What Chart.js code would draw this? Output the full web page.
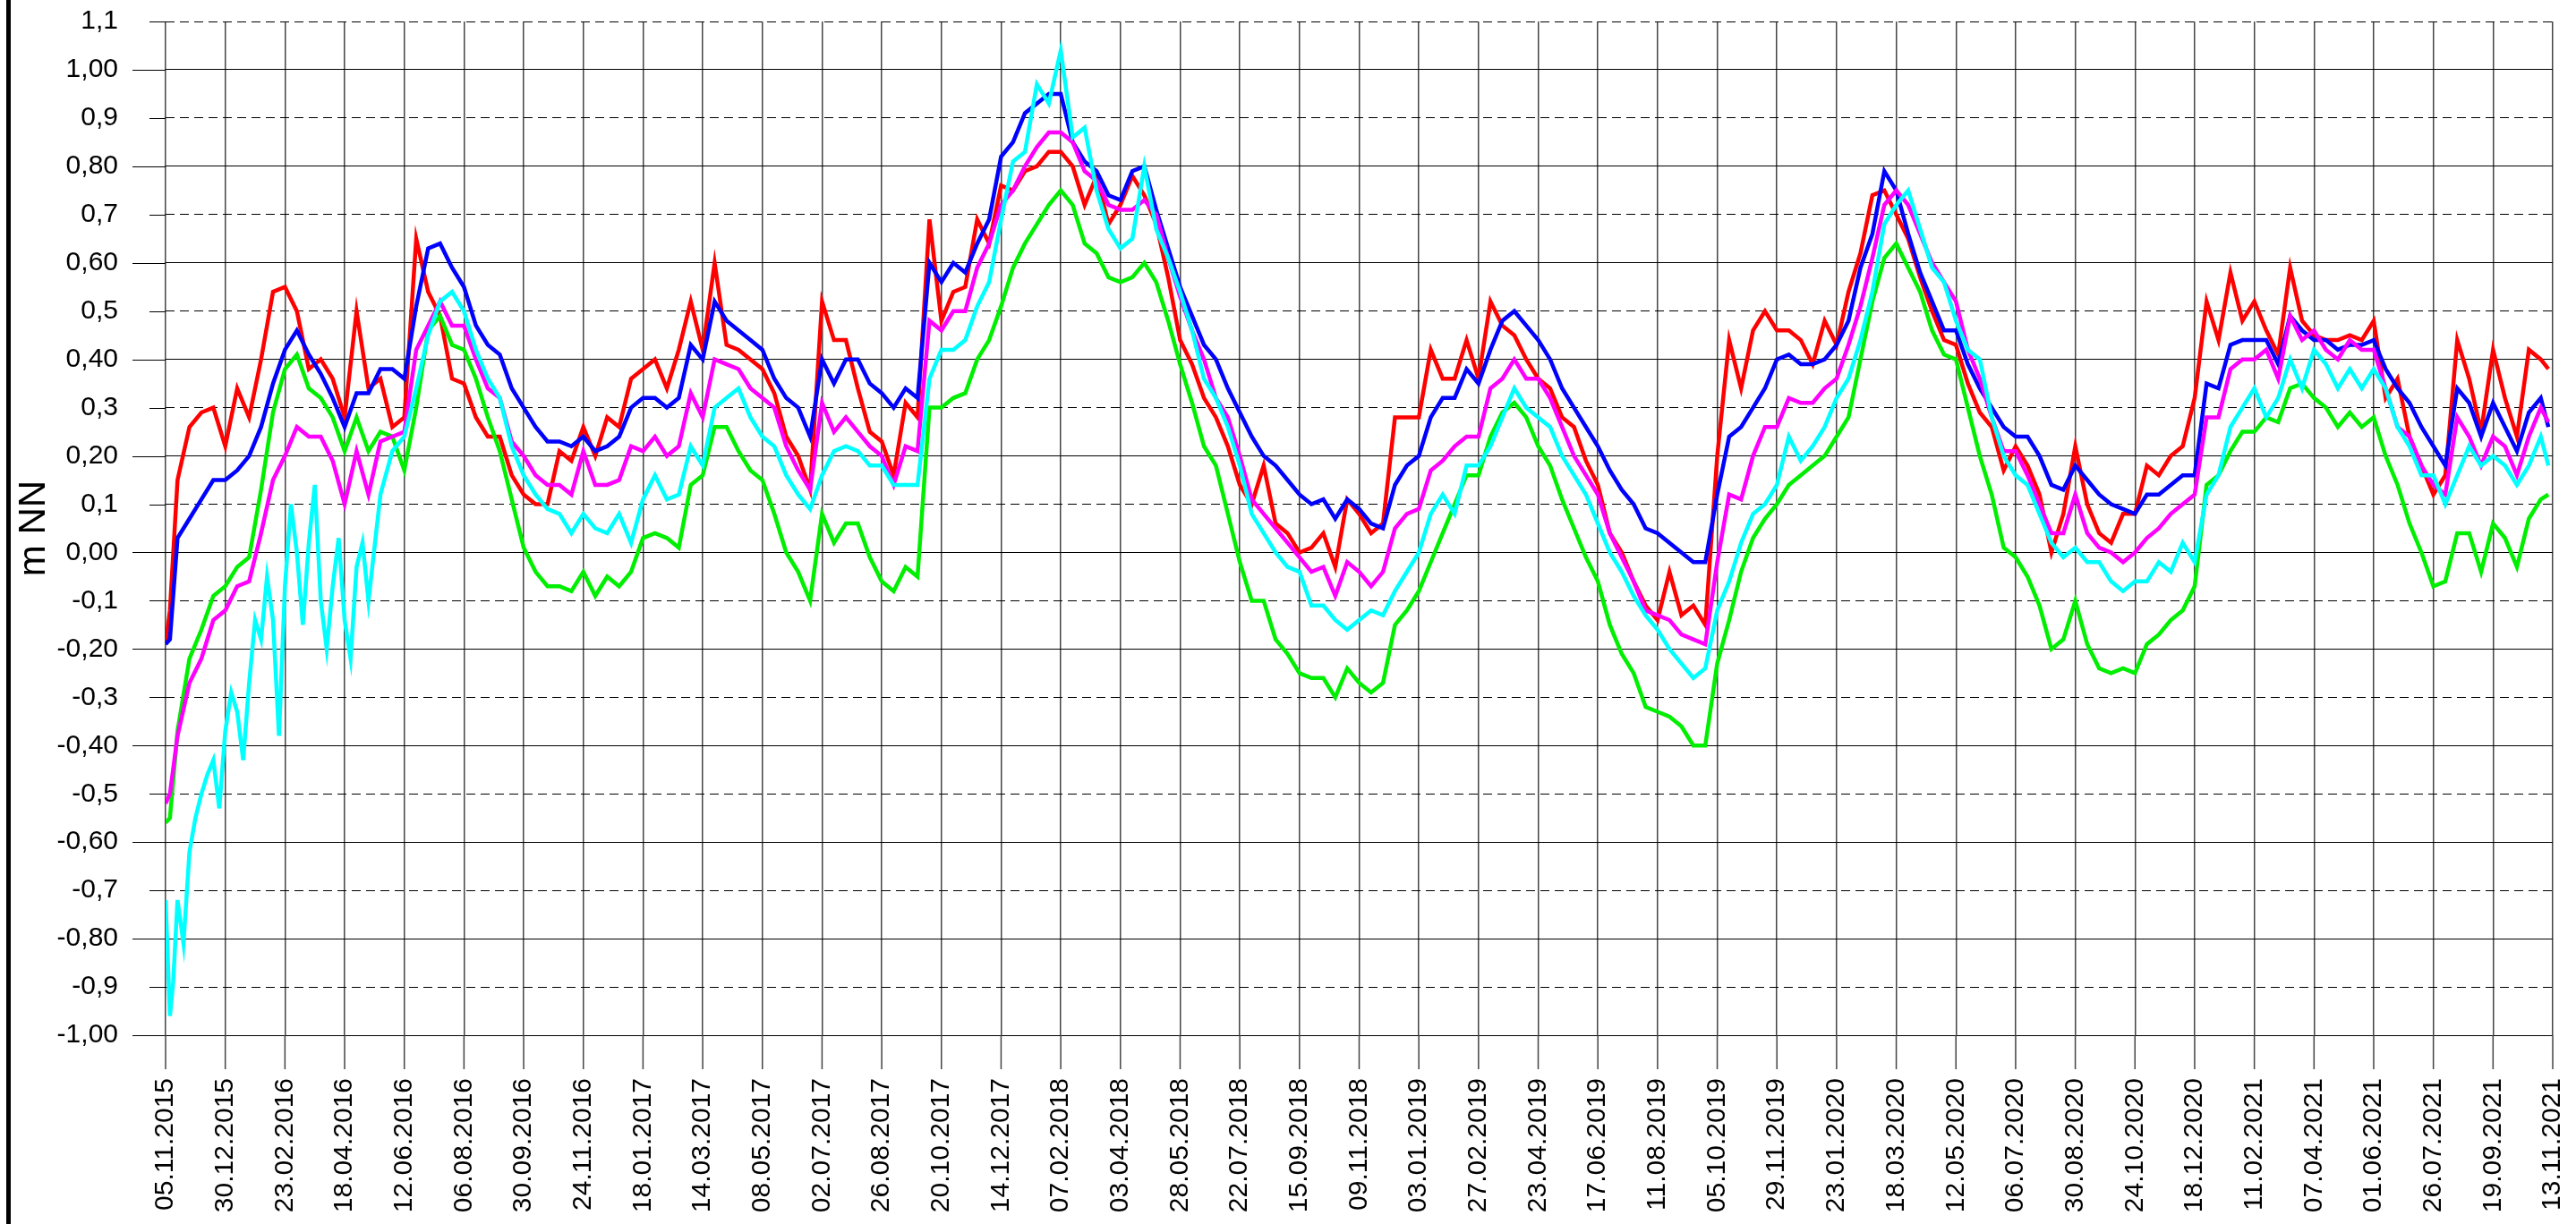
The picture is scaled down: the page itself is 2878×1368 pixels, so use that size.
<!DOCTYPE html>
<html>
<head>
<meta charset="utf-8">
<script src="https://cdn.jsdelivr.net/npm/chart.js@4.4.0/dist/chart.umd.min.js"></script>
<style>
  html, body { margin: 0; padding: 0; background: #fff; }
  #wrap { position: relative; width: 2878px; height: 1368px; }
  #frame { position: absolute; left: 7px; top: 0; width: 5px; height: 1368px; background: #000; }
</style>
</head>
<body>
<div id="wrap">
  <canvas id="myChart" width="2878" height="1368"></canvas>
  <div id="frame"></div>
</div>
<script>
// tick labels on the date axis, one every 55 days
var tickDates = [
  '05.11.2015', '30.12.2015', '23.02.2016', '18.04.2016', '12.06.2016', '06.08.2016',
  '30.09.2016', '24.11.2016', '18.01.2017', '14.03.2017', '08.05.2017', '02.07.2017',
  '26.08.2017', '20.10.2017', '14.12.2017', '07.02.2018', '03.04.2018', '28.05.2018',
  '22.07.2018', '15.09.2018', '09.11.2018', '03.01.2019', '27.02.2019', '23.04.2019',
  '17.06.2019', '11.08.2019', '05.10.2019', '29.11.2019', '23.01.2020', '18.03.2020',
  '12.05.2020', '06.07.2020', '30.08.2020', '24.10.2020', '18.12.2020', '11.02.2021',
  '07.04.2021', '01.06.2021', '26.07.2021', '19.09.2021', '13.11.2021'
];

var sampleDays = [0, 4];
for (var d = 11; d <= 2189; d += 11) sampleDays.push(d);
sampleDays.push(2196);

var red = [
  -0.19, -0.12, 0.15, 0.26, 0.29, 0.3, 0.22, 0.34, 0.28, 0.4, 0.54, 0.55, 0.5, 0.38, 0.4, 0.36, 0.28, 0.5, 0.34, 0.36, 0.26, 0.28, 0.65, 0.54, 0.49, 0.36,
  0.35, 0.28, 0.24, 0.24, 0.16, 0.12, 0.1, 0.1, 0.21, 0.19, 0.26, 0.2, 0.28, 0.26, 0.36, 0.38, 0.4, 0.34, 0.42, 0.52, 0.42, 0.6, 0.43, 0.42, 0.4,
  0.38, 0.33, 0.24, 0.2, 0.13, 0.52, 0.44, 0.44, 0.34, 0.25, 0.23, 0.16, 0.31, 0.28, 0.69, 0.48, 0.54, 0.55, 0.69, 0.64, 0.76, 0.75, 0.79, 0.8, 0.83,
  0.83, 0.8, 0.72, 0.78, 0.68, 0.72, 0.78, 0.74, 0.68, 0.57, 0.44, 0.39, 0.32, 0.28, 0.22, 0.14, 0.1, 0.18, 0.06, 0.04, 0.0, 0.01, 0.04, -0.03, 0.11,
  0.08, 0.04, 0.06, 0.28, 0.28, 0.28, 0.42, 0.36, 0.36, 0.44, 0.36, 0.52, 0.47, 0.45, 0.4, 0.36, 0.34, 0.28, 0.26, 0.19, 0.14, 0.04, 0.0, -0.06, -0.11,
  -0.14, -0.04, -0.13, -0.11, -0.15, 0.2, 0.44, 0.34, 0.46, 0.5, 0.46, 0.46, 0.44, 0.39, 0.48, 0.43, 0.54, 0.62, 0.74, 0.75, 0.7, 0.65, 0.57, 0.5, 0.44,
  0.43, 0.35, 0.29, 0.26, 0.17, 0.22, 0.18, 0.12, 0.0, 0.08, 0.22, 0.1, 0.04, 0.02, 0.08, 0.08, 0.18, 0.16, 0.2, 0.22, 0.32, 0.52, 0.44, 0.58, 0.48,
  0.52, 0.46, 0.41, 0.59, 0.48, 0.45, 0.44, 0.44, 0.45, 0.44, 0.48, 0.32, 0.36, 0.24, 0.18, 0.12, 0.16, 0.44, 0.36, 0.25, 0.42, 0.32, 0.24, 0.42, 0.4, 0.38
];

var blue = [
  -0.19, -0.18, 0.03, 0.07, 0.11, 0.15, 0.15, 0.17, 0.2, 0.26, 0.35, 0.42, 0.46, 0.41, 0.37, 0.32, 0.26, 0.33, 0.33, 0.38, 0.38, 0.36, 0.51, 0.63, 0.64, 0.59,
  0.55, 0.47, 0.43, 0.41, 0.34, 0.3, 0.26, 0.23, 0.23, 0.22, 0.24, 0.21, 0.22, 0.24, 0.3, 0.32, 0.32, 0.3, 0.32, 0.43, 0.4, 0.52, 0.48, 0.46, 0.44,
  0.42, 0.36, 0.32, 0.3, 0.24, 0.4, 0.35, 0.4, 0.4, 0.35, 0.33, 0.3, 0.34, 0.32, 0.6, 0.56, 0.6, 0.58, 0.64, 0.69, 0.82, 0.85, 0.91, 0.93, 0.95,
  0.95, 0.85, 0.81, 0.79, 0.74, 0.73, 0.79, 0.8, 0.71, 0.63, 0.55, 0.49, 0.43, 0.4, 0.34, 0.29, 0.24, 0.2, 0.18, 0.15, 0.12, 0.1, 0.11, 0.07, 0.11,
  0.09, 0.06, 0.05, 0.14, 0.18, 0.2, 0.28, 0.32, 0.32, 0.38, 0.35, 0.42, 0.48, 0.5, 0.47, 0.44, 0.4, 0.34, 0.3, 0.26, 0.22, 0.17, 0.13, 0.1, 0.05,
  0.04, 0.02, 0.0, -0.02, -0.02, 0.12, 0.24, 0.26, 0.3, 0.34, 0.4, 0.41, 0.39, 0.39, 0.4, 0.43, 0.48, 0.59, 0.66, 0.79, 0.75, 0.66, 0.58, 0.52, 0.46,
  0.46, 0.39, 0.34, 0.3, 0.26, 0.24, 0.24, 0.2, 0.14, 0.13, 0.18, 0.15, 0.12, 0.1, 0.09, 0.08, 0.12, 0.12, 0.14, 0.16, 0.16, 0.35, 0.34, 0.43, 0.44,
  0.44, 0.44, 0.39, 0.49, 0.46, 0.44, 0.44, 0.42, 0.43, 0.43, 0.44, 0.38, 0.34, 0.31, 0.26, 0.22, 0.18, 0.34, 0.31, 0.24, 0.31, 0.26, 0.21, 0.29, 0.32, 0.26
];

var green = [
  -0.56, -0.55, -0.37, -0.22, -0.16, -0.09, -0.07, -0.03, -0.01, 0.13, 0.29, 0.38, 0.41, 0.34, 0.32, 0.28, 0.21, 0.28, 0.21, 0.25, 0.24, 0.17, 0.3, 0.46, 0.49, 0.43,
  0.42, 0.36, 0.28, 0.21, 0.11, 0.01, -0.04, -0.07, -0.07, -0.08, -0.04, -0.09, -0.05, -0.07, -0.04, 0.03, 0.04, 0.03, 0.01, 0.14, 0.16, 0.26, 0.26, 0.21, 0.17,
  0.15, 0.08, 0.0, -0.04, -0.1, 0.08, 0.02, 0.06, 0.06, -0.01, -0.06, -0.08, -0.03, -0.05, 0.3, 0.3, 0.32, 0.33, 0.4, 0.44, 0.51, 0.59, 0.64, 0.68, 0.72,
  0.75, 0.72, 0.64, 0.62, 0.57, 0.56, 0.57, 0.6, 0.56, 0.48, 0.39, 0.31, 0.22, 0.18, 0.08, -0.02, -0.1, -0.1, -0.18, -0.21, -0.25, -0.26, -0.26, -0.3, -0.24,
  -0.27, -0.29, -0.27, -0.15, -0.12, -0.08, -0.02, 0.04, 0.1, 0.16, 0.16, 0.24, 0.29, 0.31, 0.28, 0.22, 0.18, 0.11, 0.05, -0.01, -0.06, -0.15, -0.21, -0.25, -0.32,
  -0.33, -0.34, -0.36, -0.4, -0.4, -0.23, -0.14, -0.04, 0.03, 0.07, 0.1, 0.14, 0.16, 0.18, 0.2, 0.24, 0.28, 0.4, 0.52, 0.61, 0.64, 0.59, 0.54, 0.46, 0.41,
  0.4, 0.3, 0.2, 0.12, 0.01, -0.01, -0.05, -0.11, -0.2, -0.18, -0.1, -0.19, -0.24, -0.25, -0.24, -0.25, -0.19, -0.17, -0.14, -0.12, -0.07, 0.14, 0.16, 0.21, 0.25,
  0.25, 0.28, 0.27, 0.34, 0.35, 0.32, 0.3, 0.26, 0.29, 0.26, 0.28, 0.2, 0.14, 0.06, 0.0, -0.07, -0.06, 0.04, 0.04, -0.04, 0.06, 0.03, -0.03, 0.07, 0.11, 0.12
];

var magenta = [
  -0.52, -0.5, -0.38, -0.27, -0.22, -0.14, -0.12, -0.07, -0.06, 0.04, 0.15, 0.2, 0.26, 0.24, 0.24, 0.19, 0.1, 0.21, 0.12, 0.23, 0.24, 0.25, 0.42, 0.47, 0.52, 0.47,
  0.47, 0.4, 0.34, 0.32, 0.23, 0.2, 0.16, 0.14, 0.14, 0.12, 0.21, 0.14, 0.14, 0.15, 0.22, 0.21, 0.24, 0.2, 0.22, 0.33, 0.28, 0.4, 0.39, 0.38, 0.34,
  0.32, 0.3, 0.22, 0.17, 0.13, 0.31, 0.25, 0.28, 0.25, 0.22, 0.2, 0.14, 0.22, 0.21, 0.48, 0.46, 0.5, 0.5, 0.59, 0.64, 0.72, 0.75, 0.8, 0.84, 0.87,
  0.87, 0.85, 0.79, 0.77, 0.72, 0.71, 0.71, 0.73, 0.7, 0.61, 0.53, 0.46, 0.4, 0.32, 0.28, 0.2, 0.11, 0.08, 0.05, 0.02, -0.01, -0.04, -0.03, -0.09, -0.02,
  -0.04, -0.07, -0.04, 0.05, 0.08, 0.09, 0.17, 0.19, 0.22, 0.24, 0.24, 0.34, 0.36, 0.4, 0.36, 0.36, 0.32, 0.26, 0.2, 0.16, 0.12, 0.04, -0.01, -0.06, -0.12,
  -0.13, -0.14, -0.17, -0.18, -0.19, -0.02, 0.12, 0.11, 0.2, 0.26, 0.26, 0.32, 0.31, 0.31, 0.34, 0.36, 0.43, 0.51, 0.61, 0.72, 0.75, 0.72, 0.66, 0.6, 0.56,
  0.52, 0.42, 0.36, 0.28, 0.21, 0.21, 0.16, 0.1, 0.04, 0.04, 0.12, 0.04, 0.01, 0.0, -0.02, 0.0, 0.03, 0.05, 0.08, 0.1, 0.12, 0.28, 0.28, 0.38, 0.4,
  0.4, 0.42, 0.36, 0.49, 0.44, 0.46, 0.42, 0.4, 0.44, 0.42, 0.42, 0.34, 0.26, 0.24, 0.18, 0.14, 0.12, 0.28, 0.24, 0.18, 0.24, 0.22, 0.16, 0.24, 0.3, 0.27
];

var cyan = [
  -0.72, -0.96, -0.72, -0.62, -0.5, -0.43, -0.37, -0.33, -0.27, -0.18, -0.14, -0.07, 0.0, 0.02, -0.1, -0.07, -0.14, -0.03, -0.1, 0.12, 0.21, 0.24, 0.34, 0.45, 0.52, 0.54,
  0.5, 0.42, 0.36, 0.32, 0.22, 0.16, 0.12, 0.09, 0.08, 0.04, 0.08, 0.05, 0.04, 0.08, 0.02, 0.11, 0.16, 0.11, 0.12, 0.22, 0.18, 0.3, 0.32, 0.34, 0.28,
  0.24, 0.22, 0.16, 0.12, 0.09, 0.16, 0.21, 0.22, 0.21, 0.18, 0.18, 0.14, 0.14, 0.14, 0.36, 0.42, 0.42, 0.44, 0.51, 0.56, 0.69, 0.81, 0.83, 0.97, 0.93,
  1.04, 0.86, 0.88, 0.75, 0.67, 0.63, 0.65, 0.8, 0.67, 0.61, 0.54, 0.46, 0.36, 0.32, 0.26, 0.18, 0.08, 0.04, 0.0, -0.03, -0.04, -0.11, -0.11, -0.14, -0.16,
  -0.14, -0.12, -0.13, -0.08, -0.04, 0.0, 0.08, 0.12, 0.08, 0.18, 0.18, 0.22, 0.28, 0.34, 0.3, 0.28, 0.26, 0.2, 0.16, 0.12, 0.06, 0.0, -0.04, -0.09, -0.13,
  -0.16, -0.2, -0.23, -0.26, -0.24, -0.12, -0.06, 0.02, 0.08, 0.1, 0.14, 0.24, 0.19, 0.22, 0.26, 0.32, 0.36, 0.44, 0.54, 0.68, 0.72, 0.75, 0.67, 0.59, 0.56,
  0.48, 0.42, 0.4, 0.28, 0.2, 0.16, 0.14, 0.08, 0.02, -0.01, 0.01, -0.02, -0.02, -0.06, -0.08, -0.06, -0.06, -0.02, -0.04, 0.02, -0.02, 0.12, 0.16, 0.26, 0.3,
  0.34, 0.28, 0.32, 0.4, 0.34, 0.42, 0.39, 0.34, 0.38, 0.34, 0.38, 0.34, 0.26, 0.22, 0.16, 0.16, 0.1, 0.16, 0.22, 0.18, 0.2, 0.18, 0.14, 0.18, 0.24, 0.18
];

// extra cyan readings in the very noisy first half year
var cyanExtraDays = [7, 16.5, 27.5, 38.5, 49.5, 60.5, 71.5, 82.5, 93.5, 104.5, 115.5, 126.5, 137.5, 148.5, 159.5, 170.5, 181.5];
var cyanExtra = [-0.89, -0.81, -0.55, -0.46, -0.53, -0.29, -0.43, -0.14, -0.05, -0.38, 0.1, -0.15, 0.14, -0.2, 0.03, -0.22, 0.02];

var FONT = '"Liberation Sans", Arial, sans-serif';

function toPoints(values, extraDays, extraValues) {
  var pts = [];
  for (var i = 0; i < values.length; i++) {
    pts.push({ x: sampleDays[i], y: values[i] });
  }
  if (extraDays) {
    for (var j = 0; j < extraDays.length; j++) {
      pts.push({ x: extraDays[j], y: extraValues[j] });
    }
    pts.sort(function (a, b) { return a.x - b.x; });
  }
  return pts;
}

function isOddTenth(v) {
  return Math.abs(Math.round(v * 10)) % 2 === 1;
}

// short tick marks outside the plot: long ones at x,00 values, short at x,x
var tickMarks = {
  id: 'tickMarks',
  afterDraw: function (chart) {
    var ctx = chart.ctx;
    var xs = chart.scales.x, ys = chart.scales.y;
    var area = chart.chartArea;
    ctx.save();
    ctx.lineWidth = 1;
    ctx.strokeStyle = '#000';
    ys.ticks.forEach(function (t) {
      var py = Math.round(ys.getPixelForValue(t.value)) + 0.5;
      var len = isOddTenth(t.value) ? 18 : 37;
      ctx.beginPath();
      ctx.moveTo(area.left - len, py);
      ctx.lineTo(area.left, py);
      ctx.stroke();
    });
    ctx.lineWidth = 1.5;
    ctx.strokeStyle = '#444';
    xs.ticks.forEach(function (t) {
      var px = xs.getPixelForValue(t.value);
      ctx.beginPath();
      ctx.moveTo(px, area.bottom);
      ctx.lineTo(px, area.bottom + 38);
      ctx.stroke();
    });
    // axis title, centred on the plot height
    ctx.fillStyle = '#000';
    ctx.font = '42px ' + FONT;
    ctx.translate(38, (area.top + area.bottom) / 2);
    ctx.rotate(-Math.PI / 2);
    ctx.textAlign = 'center';
    ctx.textBaseline = 'middle';
    ctx.fillText('m NN', 0, 0);
    ctx.restore();
  }
};

function line(label, color, points) {
  return {
    label: label,
    data: points,
    borderColor: color,
    backgroundColor: color,
    borderWidth: 4.5,
    pointRadius: 0,
    tension: 0,
    fill: false
  };
}

var ctx = document.getElementById('myChart').getContext('2d');
var myChart = new Chart(ctx, {
  type: 'line',
  data: {
    datasets: [
      line('cyan', '#00ffff', toPoints(cyan, cyanExtraDays, cyanExtra)),
      line('magenta', '#ff00ff', toPoints(magenta)),
      line('green', '#00ee00', toPoints(green)),
      line('blue', '#0000ff', toPoints(blue)),
      line('red', '#ff0000', toPoints(red))
    ]
  },
  options: {
    responsive: false,
    animation: false,
    devicePixelRatio: 1,
    layout: { padding: { top: 24, right: 26, left: 0, bottom: 0 } },
    plugins: { legend: { display: false }, tooltip: { enabled: false } },
    scales: {
      x: {
        type: 'linear',
        min: 0,
        max: 2200,
        afterFit: function (scale) {
          scale.height = 211;
          scale.paddingLeft = 0;
          scale.paddingRight = 0;
          scale.paddingTop = 0;
          scale.paddingBottom = 0;
        },
        grid: { color: '#444', lineWidth: 1.5, drawTicks: false },
        border: { display: false },
        ticks: {
          stepSize: 55,
          autoSkip: false,
          minRotation: 90,
          maxRotation: 90,
          padding: 48,
          color: '#000',
          font: { family: FONT, size: 30 },
          callback: function (value) {
            return tickDates[Math.round(value / 55)];
          }
        }
      },
      y: {
        min: -1.0,
        max: 1.1,
        afterFit: function (scale) {
          scale.width = 185;
          scale.paddingLeft = 0;
          scale.paddingRight = 0;
          scale.paddingTop = 0;
          scale.paddingBottom = 0;
        },
        grid: { color: '#000', lineWidth: 1, drawTicks: false },
        border: {
          display: false,
          dash: function (c) {
            return c.tick && isOddTenth(c.tick.value) ? [10, 6] : [];
          }
        },
        ticks: {
          stepSize: 0.1,
          padding: 53,
          color: '#000',
          font: { family: FONT, size: 30 },
          callback: function (value) {
            var s = isOddTenth(value) ? value.toFixed(1) : value.toFixed(2);
            if (s === '-0.00') s = '0.00';
            return s.replace('.', ',');
          }
        }
      }
    }
  },
  plugins: [tickMarks]
});
</script>
</body>
</html>
